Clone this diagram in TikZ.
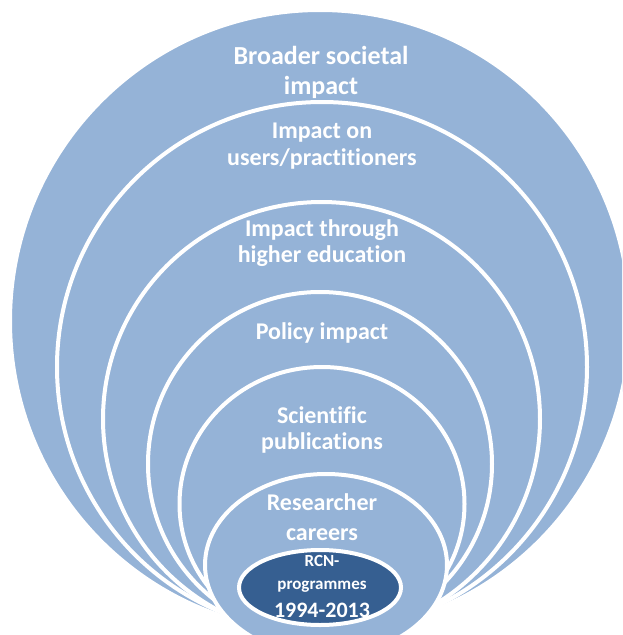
\documentclass[tikz,border=0pt]{standalone}
\usepackage{fontspec}
\setmainfont{Carlito}[Ligatures={NoCommon}]
\usepackage{xcolor}
\usepackage{tikz}
\definecolor{ringblue}{HTML}{95B3D7}
\definecolor{coreblue}{HTML}{365F91}
\tikzset{
  ring/.style={fill=ringblue,draw=white,line width=4pt},
  lbl/.style={text=white,align=center,inner sep=0pt,
    font=\bfseries\fontsize{24}{27}\selectfont},
}
\begin{document}
\begin{tikzpicture}[x=1pt,y=-1pt,
  core/.style={fill=coreblue,draw=white,line width=4pt},
]
  \useasboundingbox (0,0) rectangle (622,635);
  \clip (0,0) rectangle (622,635);

  % rings, outer to inner
  \foreach \cx/\cy/\rx/\ry in {320/321/310/311,322/367/265/265,321.5/419/218.5/217,
      320/464/172/172,322/504/142.5/137,326/565/121/91}
    \path[ring] (\cx,\cy) ellipse [x radius=\rx pt,y radius=\ry pt];

  % programmes core
  \path[core] (320,587.5) ellipse [x radius=81pt,y radius=37.5pt];

  % labels
  \node[lbl,font=\bfseries\fontsize{26}{30}\selectfont] (societal) at (321,72) {Broader societal\\impact};
  \node[lbl] (users) at (322,146.5) {Impact on\\users/practitioners};
  \node[lbl,font=\bfseries\fontsize{24}{26}\selectfont] (education) at (322,243) {Impact through\\higher education};
  \node[lbl] (policy) at (322,333) {Policy impact};
  \node[lbl,font=\bfseries\fontsize{24}{26}\selectfont] (publications) at (322,430) {Scientific\\publications};
  \node[lbl,font=\bfseries\fontsize{24}{30}\selectfont] (careers) at (322,517) {Researcher\\careers};
  \node[lbl,font=\bfseries\fontsize{17}{23}\selectfont] (programmes) at (322,586)
    {RCN-\\programmes\\[5pt]{\fontsize{22}{26}\selectfont 1994-2013}};
\end{tikzpicture}
\end{document}
